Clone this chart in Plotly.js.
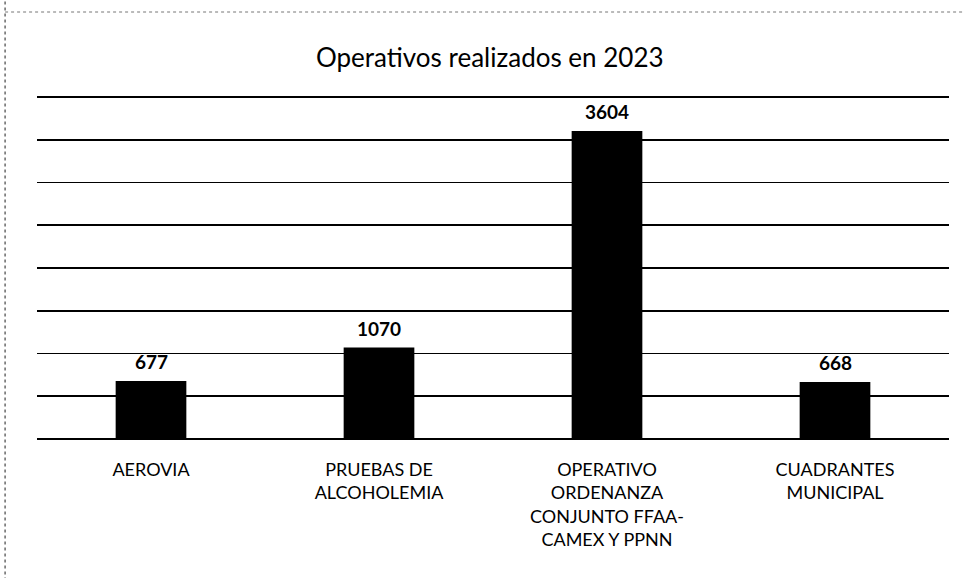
<!DOCTYPE html>
<html>
<head>
<meta charset="utf-8">
<script src="https://cdn.plot.ly/plotly-3.0.1.min.js"></script>
<style>html,body{margin:0;padding:0;background:#fff;}#chart{width:966px;height:578px;}</style>
</head>
<body>
<div id="chart"></div>
<script>
var categories = ["AEROVIA", "PRUEBAS DE<br>ALCOHOLEMIA", "OPERATIVO<br>ORDENANZA<br>CONJUNTO FFAA-<br>CAMEX Y PPNN", "CUADRANTES<br>MUNICIPAL"];
var values = [677, 1070, 3604, 668];
var valueLabels = ["677", "1070", "3604", "668"];
var gridValues = [0, 500, 1000, 1500, 2000, 2500, 3000, 3500, 4000];
var chartTitle = "Operativos realizados en 2023";

var trace = {
  type: 'bar',
  x: categories,
  y: values,
  marker: {color: '#000', line: {width: 0}},
  width: 0.31,
  hoverinfo: 'none'
};

var labelAnnotations = categories.map(function (c, i) {
  return {
    x: c, y: values[i], xref: 'x', yref: 'y',
    text: valueLabels[i], showarrow: false,
    xanchor: 'center', yanchor: 'bottom', yshift: 6,
    font: {family: 'Lato, "Open Sans", sans-serif', size: 19, color: '#000', weight: 'bold'},
    bgcolor: 'rgba(0,0,0,0)'
  };
});

var layout = {
  width: 966, height: 578,
  paper_bgcolor: '#fff', plot_bgcolor: '#fff',
  margin: {l: 37, r: 17, t: 89, b: 139},
  showlegend: false,
  font: {family: 'Lato, "Open Sans", sans-serif', color: '#000'},
  title: {text: chartTitle, font: {size: 26, color: '#000', family: 'Lato, "Open Sans", sans-serif'}, x: 0.507, xanchor: 'center', y: 0.9, yanchor: 'middle', yref: 'container'},
  xaxis: {
    type: 'category', showgrid: false, showline: false, zeroline: false,
    ticks: '', ticklabelstandoff: 18,
    tickfont: {size: 18, color: '#000'}
  },
  yaxis: {
    range: [0, 4094], tickvals: gridValues, showticklabels: false,
    showgrid: true, gridcolor: '#000', gridwidth: 1.6,
    zeroline: true, zerolinecolor: '#000', zerolinewidth: 1.6,
    showline: false, ticks: ''
  },
  annotations: labelAnnotations,
  shapes: [
    {type: 'line', xref: 'paper', yref: 'paper', x0: -0.035, x1: -0.035, y0: 1.25, y1: -0.5, line: {color: '#444', width: 1.2, dash: 'dot'}},
    {type: 'line', xref: 'paper', yref: 'paper', x0: -0.035, x1: 1.015, y0: 1.22, y1: 1.22, line: {color: '#777', width: 1, dash: 'dot'}}
  ]
};

Plotly.newPlot('chart', [trace], layout, {displayModeBar: false, staticPlot: true});
</script>
</body>
</html>
